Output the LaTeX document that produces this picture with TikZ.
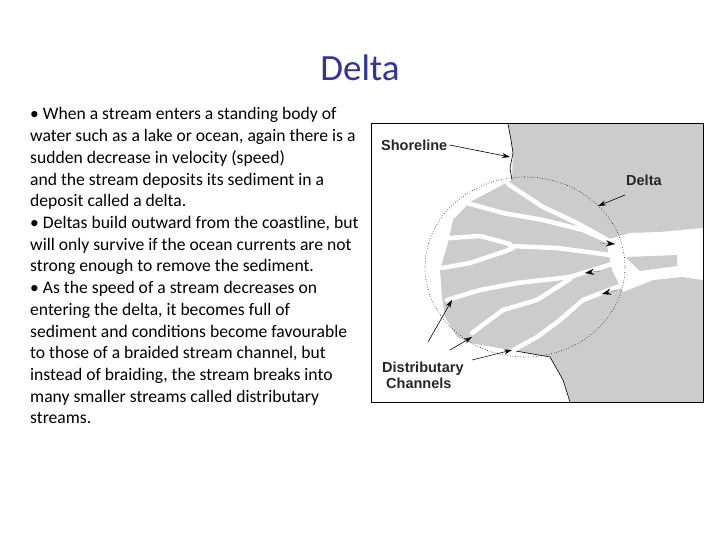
\documentclass[tikz,border=0pt]{standalone}
\usepackage{fontspec}
\setmainfont{Carlito}
\newfontfamily\arialf{Liberation Sans}
\usetikzlibrary{arrows.meta}
\definecolor{ttl}{RGB}{51,51,153}
\definecolor{land}{RGB}{204,204,204}
\tikzset{
  bodyline/.style={anchor=base west,inner sep=0pt,font=\fontsize{17.6}{20}\selectfont},
  chan/.style={draw=white,line width=4.5pt,line cap=round,line join=round},
  lbl/.style={font=\arialf\bfseries\fontsize{14.5}{16}\selectfont,inner sep=0pt,text=black!85},
  ptr/.style={-{Stealth[length=8pt,width=5pt]},line width=0.6pt},
  inarr/.style={-{Stealth[length=9pt,width=6pt]},line width=0.1pt}
}
\begin{document}
\begin{tikzpicture}[x=1pt,y=-1pt]
\useasboundingbox[fill=white] (0,0) rectangle (720,540);
\node[font=\fontsize{37}{40}\selectfont,text=ttl,anchor=base] (title) at (360,81) {Delta};
\foreach \t [count=\i] in {%
{\textbullet\ When a stream enters a standing body of},
{water such as a lake or ocean, again there is a},
{sudden decrease in velocity (speed)},
{and the stream deposits its sediment in a},
{deposit called a delta.},
{\textbullet\ Deltas build outward from the coastline, but},
{will only survive if the ocean currents are not},
{strong enough to remove the sediment.},
{\textbullet\ As the speed of a stream decreases on},
{entering the delta, it becomes full of},
{sediment and conditions become favourable},
{to those of a braided stream channel, but},
{instead of braiding, the stream breaks into},
{many smaller streams called distributary},
{streams.}}
  \node[bodyline] (b\i) at (30,{120+(\i-1)*21.7}) {\t};
% land and delta
\fill[land] (508,124) -- (703,124) -- (703,402) -- (570,402) -- (563,380) -- (550,357)
  -- (510,350) -- (470,343) -- (457,337) -- (445,317) -- (442,297) -- (440,270)
  -- (448,243) -- (453,220) -- (470,202) -- (512,180) -- (513,153) -- cycle;
\draw[line width=0.6pt] (508,124) -- (511,140) -- (513,153) -- (510,168) -- (512,180);
\draw[line width=0.6pt] (510,350) -- (550,357) -- (563,380) -- (570,402);
% main river
\fill[white] (606,240) -- (630,233) -- (660,232) -- (703,228) -- (703,280) -- (682,277)
  -- (653,280) -- (623,292) -- (612,270) -- cycle;
\fill[land] (625,257) -- (677,255) -- (677,266) -- (640,271) -- cycle;
% channels
\draw[chan] (508,184) -- (543,207) -- (577,223) -- (613,243) -- (640,240);
\draw[chan] (467,203) -- (503,213) -- (543,220) -- (583,230) -- (617,245);
\draw[chan] (450,238) -- (480,236) -- (510,244);
\draw[chan] (510,246) -- (557,248) -- (625,257);
\draw[chan] (442,268) -- (470,263) -- (503,252) -- (513,248);
\draw[chan] (447,300) -- (480,290) -- (517,283) -- (570,277) -- (625,260);
\draw[chan] (570,279) -- (537,300) -- (503,310) -- (472,333);
\draw[chan] (510,352) -- (537,337) -- (560,320) -- (583,300) -- (625,284);
% dotted delta outline
\draw[dotted,line width=0.6pt] (525,267) ellipse [x radius=100, y radius=90];
% frame
\draw[line width=0.8pt] (371,123) rectangle (703,402);
% labels
\node[lbl,anchor=west] (shore) at (381,145) {Shoreline};
\node[lbl,anchor=west] (delta) at (626,180) {Delta};
\node[lbl,anchor=west,align=left] (dist) at (382,375) {Distributary\\\ Channels};
\coordinate (s1) at (510,157);
\coordinate (d1) at (598,206);
\coordinate (c1) at (452,300);
\coordinate (c2) at (472,337);
\coordinate (c3) at (512,350);
\draw[ptr] (shore.east) ++(2,0) -- (s1);
\draw[ptr] (625,195) -- (d1);
\draw[ptr] (428,342) -- (c1);
\draw[ptr] (450,350) -- (c2);
\draw[ptr] (472,360) -- (c3);
\draw[inarr] (600,243) -- (615,244);
\draw[inarr] (600,271) -- (585,273);
\draw[inarr] (617,290) -- (602,294);
\end{tikzpicture}
\end{document}
